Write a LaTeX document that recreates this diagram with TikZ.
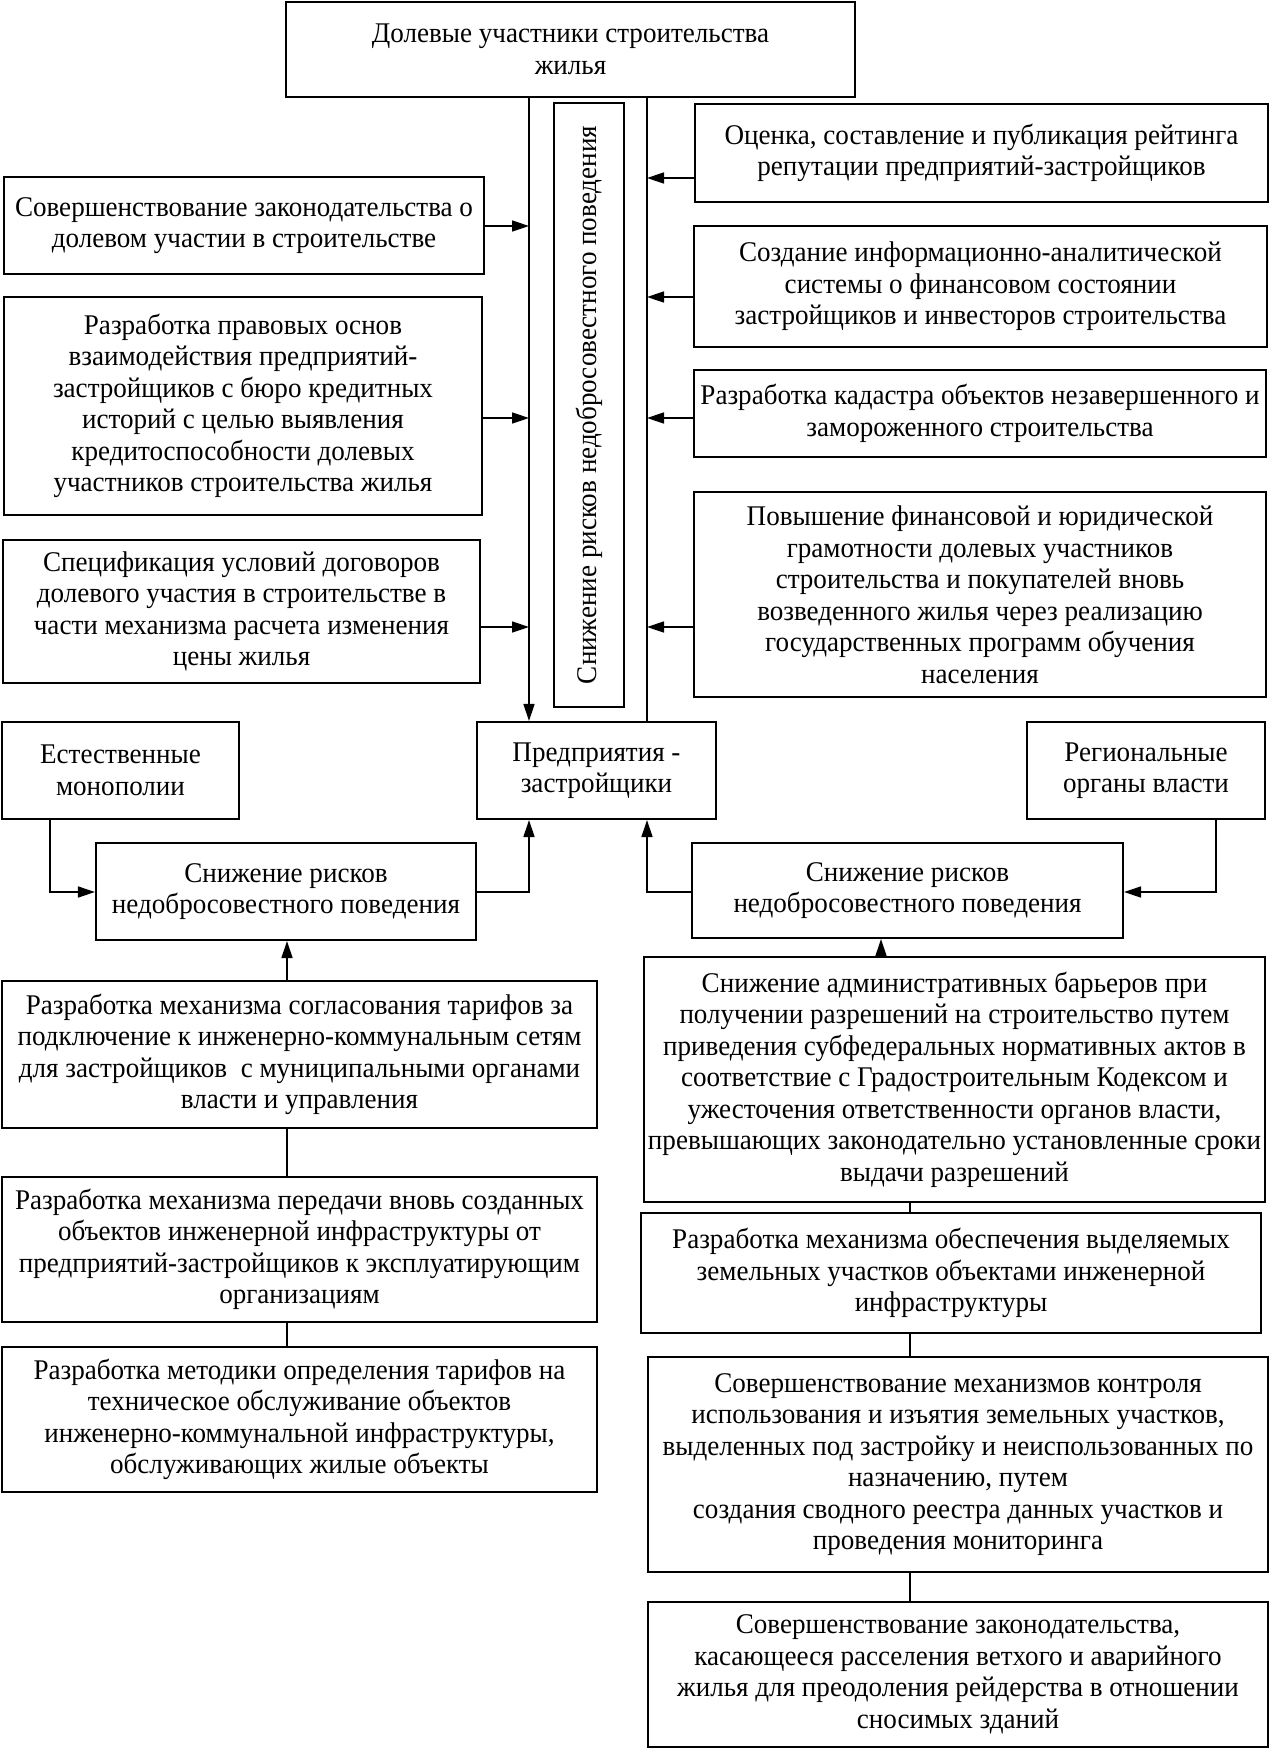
\documentclass[tikz,border=0pt]{standalone}
\usepackage{fontspec}
\setmainfont[FakeStretch=0.95]{Liberation Serif}
\usetikzlibrary{arrows.meta}
\tikzset{
  box/.style={draw, line width=2.1pt, inner sep=0pt, align=center,
    font=\fontsize{28.5}{31.5}\selectfont},
  arr/.style={line width=1.6pt, -{Triangle[length=17pt,width=11pt]}},
  con/.style={line width=1.6pt},
}
\newcommand\bx[7][]{\node[box,#1, minimum width={#5-#3}, minimum height={#6-#4}] (#2) at ({(#3+#5)/2},{(#4+#6)/2}) {#7};}
\begin{document}
\begin{tikzpicture}[x=1pt,y=-1pt]
\useasboundingbox (0,0) rectangle (1273,1751);
\fill[white] (0,0) rectangle (1273,1751);
\coordinate (cl) at (529,0);
\coordinate (cr) at (647,0);
% top
\bx{top}{286}{2}{855}{97}{Долевые участники строительства\\жилья}
\node[box, rotate=90, minimum width=604, minimum height=70] (rot) at (589,405) {Снижение рисков недобросовестного поведения};
% left column
\bx{A}{4}{177}{484}{274}{Совершенствование законодательства о\\долевом участии в строительстве}
\bx{B}{4}{297}{482}{515}{Разработка правовых основ\\взаимодействия предприятий-\\застройщиков с бюро кредитных\\историй с целью выявления\\кредитоспособности долевых\\участников строительства жилья}
\bx{C}{3}{540}{480}{683}{Спецификация условий договоров\\долевого участия в строительстве в\\части механизма расчета изменения\\цены жилья}
% right column
\bx{ocen}{695}{104}{1268}{202}{Оценка, составление и публикация рейтинга\\репутации предприятий-застройщиков}
\bx{sozd}{694}{226}{1267}{347}{Создание информационно-аналитической\\системы о финансовом состоянии\\застройщиков и инвесторов строительства}
\bx{kad}{694}{370}{1266}{457}{Разработка кадастра объектов незавершенного и\\замороженного строительства}
\bx{pov}{694}{492}{1266}{697}{Повышение финансовой и юридической\\грамотности долевых участников\\строительства и покупателей вновь\\возведенного жилья через реализацию\\государственных программ обучения\\населения}
% middle row
\bx{est}{2}{722}{239}{819}{Естественные\\монополии}
\bx{pred}{477}{722}{716}{819}{Предприятия -\\застройщики}
\bx{reg}{1027}{722}{1265}{819}{Региональные\\органы власти}
\bx{snl}{96}{843}{476}{940}{Снижение рисков\\недобросовестного поведения}
\bx{snr}{692}{843}{1123}{938}{Снижение рисков\\недобросовестного поведения}
% lower left
\bx{sogl}{2}{981}{597}{1128}{Разработка механизма согласования тарифов за\\подключение к инженерно-коммунальным сетям\\для застройщиков\ \ с муниципальными органами\\власти и управления}
\bx{pered}{2}{1177}{597}{1322}{Разработка механизма передачи вновь созданных\\объектов инженерной инфраструктуры от\\предприятий-застройщиков к эксплуатирующим\\организациям}
\bx{metod}{2}{1347}{597}{1492}{Разработка методики определения тарифов на\\техническое обслуживание объектов\\инженерно-коммунальной инфраструктуры,\\обслуживающих жилые объекты}
% lower right
\bx{adm}{644}{957}{1265}{1202}{Снижение административных барьеров при\\получении разрешений на строительство путем\\приведения субфедеральных нормативных актов в\\соответствие с Градостроительным Кодексом и\\ужесточения ответственности органов власти,\\превышающих законодательно установленные сроки\\выдачи разрешений}
\bx{obes}{641}{1213}{1261}{1333}{Разработка механизма обеспечения выделяемых\\земельных участков объектами инженерной\\инфраструктуры}
\bx{kontr}{648}{1357}{1268}{1572}{Совершенствование механизмов контроля\\использования и изъятия земельных участков,\\выделенных под застройку и неиспользованных по\\назначению, путем\\создания сводного реестра данных участков и\\проведения мониторинга}
\bx{zak}{648}{1602}{1268}{1747}{Совершенствование законодательства,\\касающееся расселения ветхого и аварийного\\жилья для преодоления рейдерства в отношении\\сносимых зданий}
% column lines
\draw[arr] (top.south -| cl) -- (pred.north -| cl);
\draw[con] (top.south -| cr) -- (pred.north -| cr);
% arrows into left line
\draw[arr] (A.east |- 0,226) -- (cl |- 0,226);
\draw[arr] (B.east |- 0,418) -- (cl |- 0,418);
\draw[arr] (C.east |- 0,627) -- (cl |- 0,627);
% arrows into right line
\draw[arr] (ocen.west |- 0,178) -- (cr |- 0,178);
\draw[arr] (sozd.west |- 0,297) -- (cr |- 0,297);
\draw[arr] (kad.west |- 0,418) -- (cr |- 0,418);
\draw[arr] (pov.west |- 0,627) -- (cr |- 0,627);
% middle connectors
\draw[arr] (est.south -| 50,0) -- (50,892) -- (snl.west |- 0,892);
\draw[arr] (snl.east |- 0,892) -- (cl |- 0,892) -- (pred.south -| cl);
\draw[arr] (snr.west |- 0,892) -- (cr |- 0,892) -- (pred.south -| cr);
\draw[arr] (reg.south -| 1216,0) -- (1216,892) -- (snr.east |- 0,892);
% lower left chain
\draw[arr] (sogl.north -| 287,0) -- (snl.south -| 287,0);
\draw[con] (sogl.south -| 287,0) -- (pered.north -| 287,0);
\draw[con] (pered.south -| 287,0) -- (metod.north -| 287,0);
% lower right chain
\draw[arr] (adm.north -| 881,0) -- (snr.south -| 881,0);
\draw[con] (adm.south -| 910,0) -- (obes.north -| 910,0);
\draw[con] (obes.south -| 910,0) -- (kontr.north -| 910,0);
\draw[con] (kontr.south -| 910,0) -- (zak.north -| 910,0);
\end{tikzpicture}
\end{document}
